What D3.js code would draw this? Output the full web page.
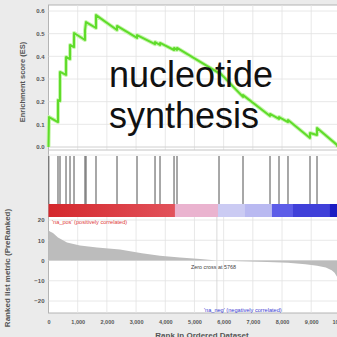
<!DOCTYPE html>
<html>
<head>
<meta charset="utf-8">
<script src="https://cdn.jsdelivr.net/npm/d3@7"></script>
<style>
  body { margin: 0; background: #ebebeb; }
  svg { display: block; }
  .tick text { font-family: "Liberation Sans", Arial, sans-serif; fill: #555; font-weight: bold; }
</style>
</head>
<body>
<svg id="chart" width="337" height="337"></svg>
<script>
// running enrichment score (rank, ES)
var esRanks = [0, 17, 325, 326, 394, 395, 600, 601, 737, 738, 874, 875, 1250, 1251, 1285, 1627, 1628,
  2347, 2348, 3032, 3033, 3649, 3650, 3820, 3821, 4300, 4301, 4402, 4403, 5841, 5842, 6663, 6664,
  7588, 7589, 7896, 7897, 8204, 8205, 8958, 8959, 9198, 9199, 9884, 9900]
var esValues = [0, 0.132, 0.110, 0.207, 0.203, 0.331, 0.318, 0.397, 0.388, 0.450, 0.441, 0.503, 0.472, 0.516, 0.551, 0.525, 0.582,
  0.516, 0.534, 0.481, 0.494, 0.454, 0.463, 0.450, 0.459, 0.428, 0.437, 0.428, 0.437, 0.326, 0.331, 0.221, 0.229,
  0.137, 0.146, 0.124, 0.132, 0.110, 0.119, 0.040, 0.062, 0.053, 0.084, 0.009, 0]

// gene set members along the ranked list
var hitRanks = [10, 325, 394, 600, 737, 874, 1250, 1285, 1627, 2347, 3032, 3649, 3820, 4300, 4402,
  5841, 6663, 7588, 7896, 8204, 8958, 9198]

// ranked list metric
var metricRanks = [0, 50, 154, 325, 634, 1079, 1661, 2449, 3200, 3818, 4500, 5200, 5768, 6500, 7500, 8200, 8800, 9200, 9500, 9700, 9800, 9900]
var metricValues = [15, 14.3, 13.6, 11.3, 8.9, 7.4, 6.4, 5.4, 3.6, 2.3, 1.5, 0.7, 0, -0.4, -0.7, -1.1, -1.8, -2.6, -3.5, -4.8, -6, -8.5]

// colour bar segment starts (rank)
var barRanks = [0, 4330, 5805, 6730, 7655, 8375, 9640]
var barEnd = 9900
var barColors = ['url(#redgrad)', '#eab3cf', '#cbcbf3', '#b9b9f1', '#5d5de8', '#4040d9', '#1c1cc3']

var xTicks = [0, 1000, 2000, 3000, 4000, 5000, 6000, 7000, 8000, 9000, 10000]
var esTicks = [0, 0.1, 0.2, 0.3, 0.4, 0.5, 0.6]
var metricTicks = [20, 10, 0, -10, -20]
var zeroCross = 5768
var titleLines = ['nucleotide', 'synthesis']

var left = 48.5, right = 337.5
var svg = d3.select('#chart')

var x = d3.scaleLinear().domain([0, 9900]).range([left, right])
var esY = d3.scaleLinear().domain([0, 0.6]).range([147, 11])
var mY = d3.scaleLinear().domain([-20, 20]).range([301, 220])

var defs = svg.append('defs')
var grad = defs.append('linearGradient').attr('id', 'redgrad')
grad.append('stop').attr('offset', '0%').attr('stop-color', '#d4272c')
grad.append('stop').attr('offset', '100%').attr('stop-color', '#e2525b')

// white plot area
svg.append('rect')
  .attr('x', left).attr('y', 5).attr('width', 290).attr('height', 308)
  .attr('fill', '#fff').attr('stroke', '#b4b4b4')

// grid lines
var gridG = svg.append('g').attr('stroke', '#e2e2e2').attr('stroke-width', 0.8)
gridG.selectAll('.vg1').data(xTicks.slice(1)).enter().append('line')
  .attr('x1', d => x(d)).attr('x2', d => x(d)).attr('y1', 5).attr('y2', 150)
gridG.selectAll('.vg2').data(xTicks.slice(1)).enter().append('line')
  .attr('x1', d => x(d)).attr('x2', d => x(d)).attr('y1', 217).attr('y2', 313)
gridG.selectAll('.hg1').data(esTicks.slice(1)).enter().append('line')
  .attr('x1', left).attr('x2', right).attr('y1', d => esY(d)).attr('y2', d => esY(d))
gridG.selectAll('.hg2').data(metricTicks).enter().append('line')
  .attr('x1', left).attr('x2', right).attr('y1', d => mY(d)).attr('y2', d => mY(d))

// panel separators
svg.append('line').attr('x1', left).attr('x2', right).attr('y1', 150).attr('y2', 150).attr('stroke', '#c4c4c4')
svg.append('line').attr('x1', left).attr('x2', right).attr('y1', 155).attr('y2', 155).attr('stroke', '#e6e6e6')
svg.append('line').attr('x1', left).attr('x2', right).attr('y1', esY(0)).attr('y2', esY(0)).attr('stroke', '#d0d0d0')

// hits
svg.append('g').selectAll('line').data(hitRanks).enter().append('line')
  .attr('x1', d => x(d)).attr('x2', d => x(d)).attr('y1', 156).attr('y2', 204)
  .attr('stroke', '#6e6e6e').attr('stroke-width', 1.2)

// colour bar
svg.append('g').selectAll('rect').data(barRanks).enter().append('rect')
  .attr('x', d => x(d))
  .attr('width', (d, i) => x(i < barRanks.length - 1 ? barRanks[i + 1] : barEnd) - x(d) + 0.3)
  .attr('y', 204).attr('height', 13)
  .attr('fill', (d, i) => barColors[i])

// ranked metric area
var area = d3.area()
  .x((d, i) => x(metricRanks[i]))
  .y0(mY(0))
  .y1(d => mY(d))
svg.append('path').datum(metricValues).attr('d', area).attr('fill', '#bcbcbc')

// zero cross
svg.append('line').attr('x1', x(zeroCross)).attr('x2', x(zeroCross)).attr('y1', 217).attr('y2', 313)
  .attr('stroke', '#cfcfcf').attr('stroke-width', 0.8)

// ES curve, with a soft halo like the original
var line = d3.line().x((d, i) => x(esRanks[i])).y(d => esY(d))
svg.append('path').datum(esValues).attr('d', line)
  .attr('fill', 'none').attr('stroke', '#c8f5b0').attr('stroke-width', 4).attr('stroke-linejoin', 'round')
svg.append('path').datum(esValues).attr('d', line)
  .attr('fill', 'none').attr('stroke', '#5fdc2a').attr('stroke-width', 2).attr('stroke-linejoin', 'round')

// axes
var esAxis = d3.axisLeft(esY).tickValues(esTicks).tickFormat(d3.format('.1f')).tickSize(0).tickPadding(4)
svg.append('g').attr('transform', 'translate(' + left + ',0)').call(esAxis)
  .call(g => g.select('.domain').remove())
  .selectAll('text').style('font-size', '6px')

var mAxis = d3.axisLeft(mY).tickValues(metricTicks).tickSize(0).tickPadding(4)
svg.append('g').attr('transform', 'translate(' + left + ',0)').call(mAxis)
  .call(g => g.select('.domain').remove())
  .selectAll('text').style('font-size', '6px')

var xAxis = d3.axisBottom(x).tickValues(xTicks).tickFormat(d3.format(',')).tickSize(0).tickPadding(7)
svg.append('g').attr('transform', 'translate(0,313)').call(xAxis)
  .call(g => g.select('.domain').remove())
  .selectAll('text').style('font-size', '5.5px')

// axis titles
var font = '"Liberation Sans", Arial, sans-serif'
svg.append('text').attr('transform', 'translate(25,82) rotate(-90)')
  .attr('text-anchor', 'middle').attr('font-family', font).attr('font-size', 7.5).attr('font-weight', 'bold')
  .attr('fill', '#555').text('Enrichment score (ES)')
svg.append('text').attr('transform', 'translate(10,268) rotate(-90)')
  .attr('text-anchor', 'middle').attr('font-family', font).attr('font-size', 8).attr('font-weight', 'bold')
  .attr('fill', '#555').text('Ranked list metric (PreRanked)')
svg.append('text').attr('x', 202).attr('y', 338)
  .attr('text-anchor', 'middle').attr('font-family', font).attr('font-size', 8).attr('font-weight', 'bold')
  .attr('fill', '#555').text('Rank in Ordered Dataset')

// annotations
svg.append('text').attr('x', 52).attr('y', 224).attr('font-family', font).attr('font-size', 5.6)
  .attr('fill', '#e03c3c').text("'na_pos' (positively correlated)")
svg.append('text').attr('x', 191).attr('y', 269).attr('font-family', font).attr('font-size', 5.4)
  .attr('fill', '#444').text('Zero cross at ' + zeroCross)
svg.append('text').attr('x', 204).attr('y', 312).attr('font-family', font).attr('font-size', 5.6)
  .attr('fill', '#3a3ad2').text("'na_neg' (negatively correlated)")

// big title
svg.append('g').selectAll('text').data(titleLines).enter().append('text')
  .attr('x', 109).attr('y', (d, i) => 87 + i * 41)
  .attr('font-family', font).attr('font-size', 36).attr('fill', '#111')
  .text(d => d)
</script>
</body>
</html>
